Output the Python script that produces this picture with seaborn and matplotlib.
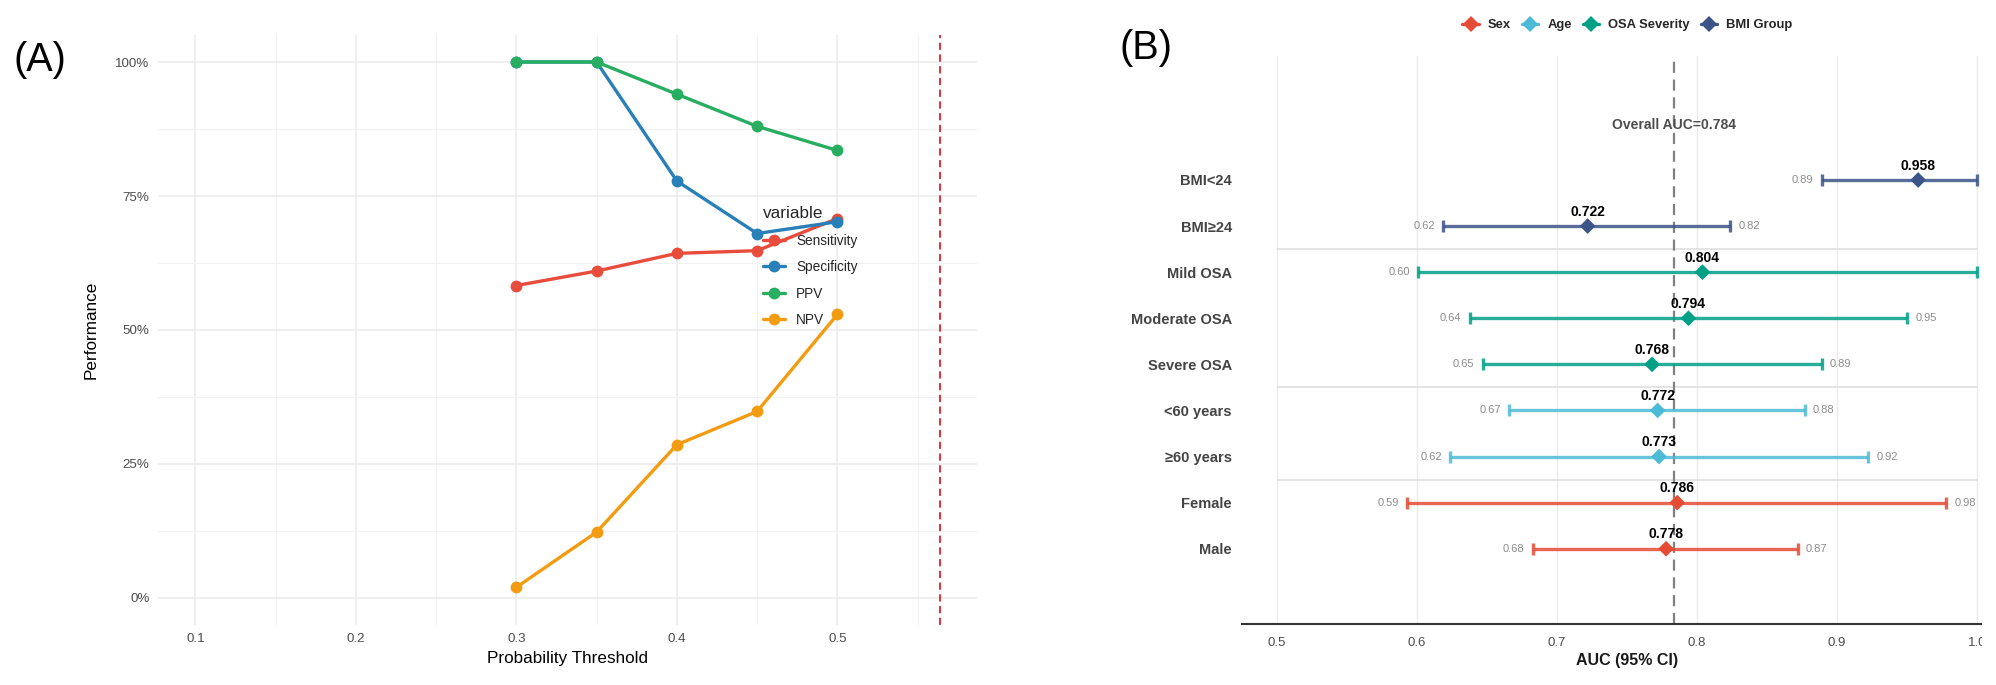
import numpy as np
import pandas as pd
import matplotlib
matplotlib.use("Agg")
import matplotlib.pyplot as plt
import seaborn as sns
from matplotlib.ticker import PercentFormatter, FixedLocator
from matplotlib.lines import Line2D
from matplotlib.patches import Rectangle

# ---------------- data: panel A ----------------
thresholds = [0.30, 0.35, 0.40, 0.45, 0.50]
sensitivity = [0.583, 0.610, 0.643, 0.648, 0.708]
specificity = [1.000, 1.000, 0.778, 0.680, 0.702]
ppv = [1.000, 1.000, 0.940, 0.880, 0.835]
npv = [0.020, 0.123, 0.286, 0.348, 0.529]
metric_names = ["Sensitivity", "Specificity", "PPV", "NPV"]
metric_colors = ["#E74C3C", "#2980B9", "#27AE60", "#F39C12"]
optimal_threshold = 0.564
x_ticks_a = [0.1, 0.2, 0.3, 0.4, 0.5]
y_ticks_a = [0.0, 0.25, 0.50, 0.75, 1.00]

# ---------------- data: panel B ----------------
subgroups = ["Male", "Female", "≥60 years", "<60 years", "Severe OSA",
             "Moderate OSA", "Mild OSA", "BMI≥24", "BMI<24"]
subgroup_family = ["Sex", "Sex", "Age", "Age", "OSA Severity",
                   "OSA Severity", "OSA Severity", "BMI Group", "BMI Group"]
auc = [0.778, 0.786, 0.773, 0.772, 0.768, 0.794, 0.804, 0.722, 0.958]
ci_low = [0.683, 0.593, 0.624, 0.666, 0.647, 0.638, 0.601, 0.619, 0.889]
ci_high = [0.872, 0.978, 0.922, 0.877, 0.889, 0.950, 1.000, 0.824, 1.000]
families = ["Sex", "Age", "OSA Severity", "BMI Group"]
family_colors = ["#E64B35", "#4DBBD5", "#00A087", "#3C5488"]
overall_auc = 0.784
x_ticks_b = [0.5, 0.6, 0.7, 0.8, 0.9, 1.0]
separator_after = [2, 4, 7]   # number of rows below each separator

sns.set_theme(style="white")
plt.rcParams['font.family'] = ['Liberation Sans', 'DejaVu Sans']

W, H = 1996, 685
fig = plt.figure(figsize=(W / 100, H / 100), dpi=100)

def px_axes(left, top, right, bottom):
    return fig.add_axes([left / W, 1 - bottom / H, (right - left) / W, (bottom - top) / H])

# ================= Panel A =================
axA = px_axes(158, 35.2, 977, 624.8)
dfA = pd.DataFrame({
    "threshold": thresholds * 4,
    "value": sensitivity + specificity + ppv + npv,
    "variable": np.repeat(metric_names, len(thresholds)),
})
palA = dict(zip(metric_names, metric_colors))
axA.set_xlim(0.0767, 0.587)
axA.set_ylim(-0.05, 1.05)
axA.xaxis.set_major_locator(FixedLocator(x_ticks_a))
axA.xaxis.set_minor_locator(FixedLocator([0.15, 0.25, 0.35, 0.45, 0.55]))
axA.yaxis.set_major_locator(FixedLocator(y_ticks_a))
axA.yaxis.set_minor_locator(FixedLocator([0.125, 0.375, 0.625, 0.875]))
axA.yaxis.set_major_formatter(PercentFormatter(xmax=1, decimals=0))
axA.grid(which="major", color="#EBEBEB", linewidth=1.1)
axA.grid(which="minor", color="#F2F2F2", linewidth=0.8)
axA.set_axisbelow(True)
sns.lineplot(data=dfA, x="threshold", y="value", hue="variable", palette=palA,
             hue_order=metric_names, marker="o", markersize=8.5, markeredgewidth=0,
             linewidth=2.4, ax=axA, legend=False)
axA.axvline(optimal_threshold, color="#E0202A", linestyle=(0, (4, 2.5)), linewidth=1.3)
for s in axA.spines.values():
    s.set_visible(False)
axA.tick_params(which="both", length=0, labelsize=9.6, labelcolor="#4D4D4D", pad=6)
axA.set_xlabel("Probability Threshold", fontsize=12.3, color="black", labelpad=4)
axA.set_ylabel("Performance", fontsize=12.3, color="black", labelpad=12)

handlesA = [Line2D([0], [0], color=c, lw=2.4, marker="o", ms=8.5, mew=0) for c in metric_colors]
legA = axA.legend(handlesA, metric_names, title="variable", loc="upper left",
                  bbox_to_anchor=(763 / W, 1 - 206 / H), bbox_transform=fig.transFigure,
                  frameon=False, fontsize=9.8, title_fontsize=12.3, handlelength=1.6,
                  handletextpad=0.85, labelspacing=0.92, borderpad=0, borderaxespad=0)
legA._legend_box.align = "left"

fig.text(13 / W, 1 - 60 / H, "(A)", fontsize=28.5, ha="left", va="center", color="black")

# ================= Panel B =================
axB = px_axes(1241.7, 56, 2012, 624.3)
ypos = np.arange(1, len(subgroups) + 1)
axB.set_xlim(0.475, 1.025)
axB.set_ylim(-0.64, 11.69)
axB.xaxis.set_major_locator(FixedLocator(x_ticks_b))
axB.grid(axis="x", color="#EBEBEB", linewidth=1.0)
axB.grid(axis="y", visible=False)
axB.set_axisbelow(True)
famcol = dict(zip(families, family_colors))

for n in separator_after:
    axB.plot([x_ticks_b[0], x_ticks_b[-1]], [n + 0.5, n + 0.5], color="#DDDDDD", linewidth=1.1, zorder=1)

axB.axvline(overall_auc, color="#808080", linestyle=(0, (5, 3)), linewidth=1.6, zorder=2)

for yi, a, lo, hi, fam in zip(ypos, auc, ci_low, ci_high, subgroup_family):
    c = famcol[fam]
    axB.errorbar([a], [yi], xerr=[[a - lo], [hi - a]], fmt="none", ecolor=c,
                 elinewidth=2.4, capsize=4.4, capthick=2.4, alpha=0.85, zorder=3)
    axB.text(lo - 0.006, yi, f"{lo:.2f}", ha="right", va="center", fontsize=8, color="#8C8C8C")
    if hi < 0.995:   # labels at 1.00 fall outside the visible (cropped) area
        axB.text(hi + 0.006, yi, f"{hi:.2f}", ha="left", va="center", fontsize=8, color="#8C8C8C")
    axB.text(a, yi + 0.31, f"{a:.3f}", ha="center", va="center", fontsize=10,
             fontweight="bold", color="black", zorder=5)

dfB = pd.DataFrame({"auc": auc, "y": ypos, "family": subgroup_family})
sns.scatterplot(data=dfB, x="auc", y="y", hue="family", palette=famcol, marker="D",
                s=64, linewidth=0, ax=axB, legend=False, zorder=4)

axB.text(overall_auc, 10.19, f"Overall AUC={overall_auc}", ha="center", va="center",
         fontsize=10, fontweight="bold", color="#4D4D4D")

axB.set_yticks(ypos)
axB.set_yticklabels(subgroups)
for s in ["top", "right", "left"]:
    axB.spines[s].set_visible(False)
axB.spines["bottom"].set_color("#333333")
axB.spines["bottom"].set_linewidth(1.5)
axB.tick_params(axis="x", length=4, width=1.0, color="#333333", labelsize=9.5,
                labelcolor="#4D4D4D", pad=5)
axB.tick_params(axis="y", length=0, labelsize=10.5, labelcolor="#444444", pad=7)
for t in axB.get_yticklabels():
    t.set_fontweight("bold")
axB.set_xlabel("AUC (95% CI)", fontsize=11.5, fontweight="bold", color="#1A1A1A", labelpad=3)
axB.set_ylabel("")

handlesB = [Line2D([0], [0], color=c, lw=2.4, marker="D", ms=8.5, mew=0) for c in family_colors]
fig.legend(handlesB, families, loc="center", bbox_to_anchor=(1627.5 / W, 1 - 25 / H),
           ncol=4, frameon=False, handlelength=1.27, handletextpad=0.7,
           columnspacing=0.82, prop={"weight": "bold", "size": 9.4})

fig.text(1119 / W, 1 - 48 / H, "(B)", fontsize=28.5, ha="left", va="center", color="black")

# image in the reference is cropped at the right edge
fig.add_artist(Rectangle((1982 / W, 0), 1 - 1982 / W, 1, transform=fig.transFigure,
                         facecolor="white", edgecolor="none", zorder=100))

fig.savefig("out.png", dpi=100, facecolor="white")
